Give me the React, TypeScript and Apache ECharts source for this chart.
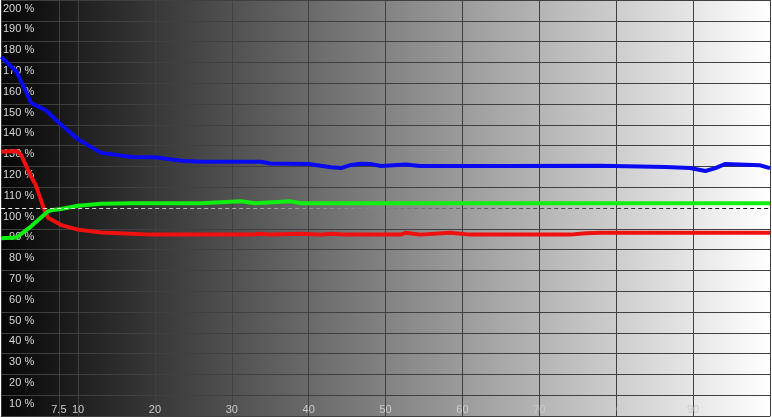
import React, { useEffect, useRef } from "react";
import * as echarts from "echarts";

const xTickValues = [7.5, 10, 20, 30, 40, 50, 60, 70, 80, 90];
const xGridValues = [7.5, 10, 20, 30, 40, 50, 60, 70, 80, 90, 100];

const blueData: [number, number][] = [
  [0, 172.6], [2, 165.5], [3.9, 150.5], [5.8, 147], [7.8, 140], [10, 133],
  [13, 126.5], [17, 124.5], [20, 124.4], [23.4, 122.7], [26, 122.2], [33.8, 122.2],
  [35, 121.4], [40, 121.2], [42.9, 119.6], [44.2, 119.2], [45.5, 120.7], [46.8, 121.3],
  [48, 121.2], [49.4, 120.2], [52.6, 120.9], [54.5, 120.2], [77.9, 120.3], [86.4, 119.7],
  [89.6, 119.2], [91.6, 117.8], [92.9, 119.2], [94.2, 121.2], [98.7, 120.5], [100, 119.2],
];

const greenData: [number, number][] = [
  [0, 85.4], [2, 85.8], [3.9, 91.2], [6.1, 98.4], [6.5, 98.9], [7.8, 99.5], [10, 101.1],
  [13, 102], [17, 102.3], [26, 102.3], [31.2, 103.2], [33, 102.3], [37.7, 103.2],
  [39, 102.3], [100, 102.3],
];

const redData: [number, number][] = [
  [0, 127.1], [2, 127.4], [2.6, 125.5], [3.9, 115], [4.5, 111], [5.6, 99.2], [6.1, 95.3],
  [7.8, 91.8], [10, 89.6], [13, 88.2], [17, 87.6], [19.5, 87.2], [32.5, 87.2],
  [33.8, 87.6], [35, 87.2], [39, 87.6], [41.6, 87.2], [42.9, 87.6], [44.8, 87.2],
  [52, 87.2], [52.6, 88.1], [54.5, 87.2], [58.4, 88.1], [61, 87.2], [74, 87.2],
  [76, 87.9], [77.9, 88.1], [100, 88.1],
];

const referenceLevel = 100;

export default function App() {
  const ref = useRef<HTMLDivElement>(null);
  useEffect(() => {
    if (!ref.current) return;
    const chart = echarts.init(ref.current, null, { renderer: "svg" });
    const splitColors: string[] = [];
    for (let i = 0; i <= 20; i++) splitColors.push(i === 10 ? "transparent" : "#404040");
    const font = "'Liberation Sans', Arial, sans-serif";
    chart.setOption({
      animation: false,
      grid: {
        left: 0,
        top: 0,
        width: 770,
        height: 416,
        show: true,
        borderWidth: 0,
        backgroundColor: new echarts.graphic.LinearGradient(0, 0, 1, 0, [
          { offset: 0, color: "#060606" },
          { offset: 1, color: "#ffffff" },
        ]),
      },
      xAxis: {
        type: "value",
        min: 0,
        max: 100,
        axisLine: { show: true, lineStyle: { color: "#404040", width: 1 } },
        axisTick: { show: false, customValues: xGridValues },
        axisLabel: {
          inside: true,
          margin: 2,
          customValues: xTickValues,
          color: "#cccccc",
          fontSize: 11,
          fontFamily: font,
        },
        splitLine: { show: true, lineStyle: { color: "#404040", width: 1 } },
      },
      yAxis: {
        type: "value",
        min: 0,
        max: 200,
        interval: 10,
        axisLine: { show: false },
        axisTick: { show: false },
        axisLabel: {
          inside: true,
          align: "right",
          verticalAlign: "top",
          lineHeight: 15,
          margin: 33,
          color: "#d8d8d8",
          fontSize: 11,
          fontFamily: font,
          formatter: (v: number) => (v === 0 ? "" : v + " %"),
        },
        splitLine: { show: true, lineStyle: { color: splitColors, width: 1 } },
      },
      series: [
        {
          type: "line",
          data: redData,
          showSymbol: false,
          lineStyle: { color: "#f01010", width: 4 },
          z: 3,
          markLine: {
            silent: true,
            symbol: "none",
            label: { show: false },
            data: [{ yAxis: referenceLevel }],
            lineStyle: {
              type: [4, 3],
              width: 1,
              color: new echarts.graphic.LinearGradient(
                0, 0, 770, 0,
                [
                  { offset: 0, color: "#f4f4f4" },
                  { offset: 1, color: "#080808" },
                ],
                true
              ),
            },
          },
        },
        {
          type: "line",
          data: greenData,
          showSymbol: false,
          lineStyle: { color: "#10f010", width: 4 },
          z: 4,
        },
        {
          type: "line",
          data: blueData,
          showSymbol: false,
          lineStyle: { color: "#0a0af0", width: 4 },
          z: 5,
        },
      ],
    });
    return () => chart.dispose();
  }, []);
  return (
    <div
      ref={ref}
      style={{ position: "fixed", left: 0, top: 0, width: 772, height: 417 }}
    />
  );
}
